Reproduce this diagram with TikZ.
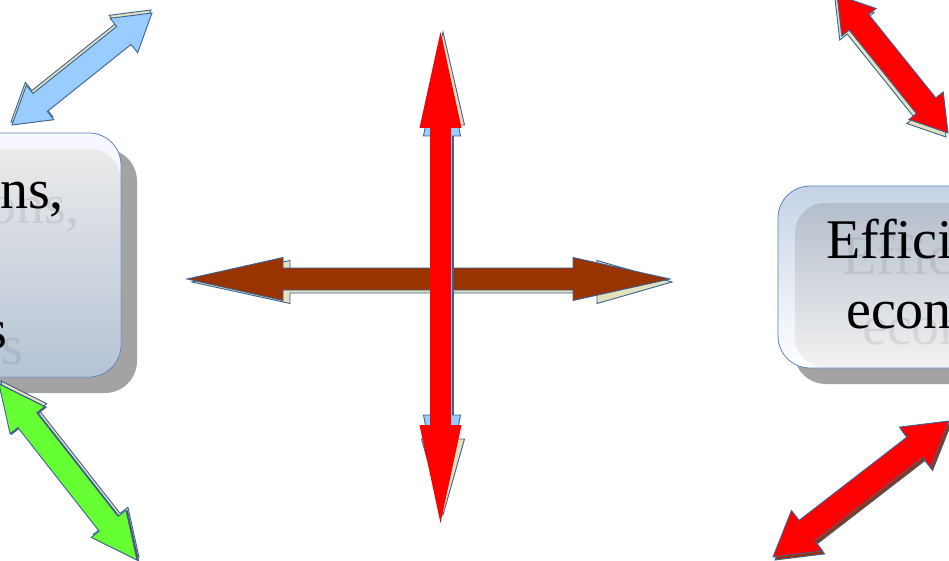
\documentclass[tikz,border=0pt]{standalone}
\usepackage{fontspec}
\setmainfont{Liberation Serif}
\usetikzlibrary{calc}

\definecolor{arrowline}{HTML}{3A6296}
\definecolor{boxline}{HTML}{5B85C0}
\definecolor{skyfill}{HTML}{99CCFF}
\definecolor{limefill}{HTML}{66FF33}
\definecolor{rustfill}{HTML}{993300}
\definecolor{creamfill}{HTML}{E4E2BC}
\definecolor{shadowgray}{HTML}{A3A3A3}

% double block arrow: style, tip, tip, shaft half width, head half width, head lengths
\newcommand{\blockarrow}[7]{%
  \path[#1] (#2)
    -- ($($(#2)!#6!(#3)$)!#5!90:(#3)$)
    -- ($($(#2)!#6!(#3)$)!#4!90:(#3)$)
    -- ($($(#3)!#7!(#2)$)!#4!-90:(#2)$)
    -- ($($(#3)!#7!(#2)$)!#5!-90:(#2)$)
    -- (#3)
    -- ($($(#3)!#7!(#2)$)!#5!90:(#2)$)
    -- ($($(#3)!#7!(#2)$)!#4!90:(#2)$)
    -- ($($(#2)!#6!(#3)$)!#4!-90:(#3)$)
    -- ($($(#2)!#6!(#3)$)!#5!-90:(#3)$)
    -- cycle;}

\begin{document}
\begin{tikzpicture}[x=1pt,y=-1pt,
    framed/.style={draw=arrowline, line width=0.9pt, line join=miter, fill=#1},
    bare/.style={fill=#1},
    boxtext/.style={inner sep=0pt, anchor=base west, font=\fontsize{56pt}{70pt}\selectfont},
    ghost/.style={boxtext, text=black, text opacity=0.08}]
    \useasboundingbox (0,0) rectangle (949,561);
    \clip (0,0) rectangle (949,561);
    \fill[white] (0,0) rectangle (949,561);

    % left box
    \fill[shadowgray, rounded corners=32pt] (-184,149) rectangle (137,393);
    \fill[white!97!blue, rounded corners=32pt] (-200,133) rectangle (121,377);
    \shade[top color=black!8, bottom color={rgb,255:red,181;green,195;blue,213}, rounded corners=30pt]
        (-184,149) rectangle (120.5,376.5);
    \node[ghost] (leftghosta) at (-12,224) {ons,};
    \node[ghost] (leftghostb) at (1,364) {s};
    \node[boxtext] (lefttexta) at (-28,208) {ons,};
    \node[boxtext] (lefttextb) at (-15,348) {s};
    \draw[boxline, line width=0.8pt, rounded corners=32pt] (-200,133) rectangle (121,377);

    % right box
    \fill[shadowgray, rounded corners=32pt] (794,202) rectangle (1166,384);
    \shade[top color={rgb,255:red,197;green,211;blue,230}, bottom color=white, rounded corners=32pt]
        (778,186) rectangle (1150,368);
    \shade[top color={rgb,255:red,180;green,190;blue,203}, bottom color=black!5, rounded corners=30pt]
        (795,203) rectangle (1150,367.5);
    \node[ghost] (rightghosta) at (842,274) {Effici};
    \node[ghost] (rightghostb) at (862,344) {econ};
    \node[boxtext] (righttexta) at (826,258) {Effici};
    \node[boxtext] (righttextb) at (846,328) {econ};
    \draw[boxline, line width=0.8pt, rounded corners=32pt] (778,186) rectangle (1150,368);

    % tips of the arrows
    \coordinate (skylow) at (12,125);
    \coordinate (skyhigh) at (152,13);
    \coordinate (skylowb) at (11,122);
    \coordinate (skyhighb) at (151,10);
    \coordinate (limehigh) at (-1,384);
    \coordinate (limelow) at (137,560);
    \coordinate (limehighb) at (1,381);
    \coordinate (limelowb) at (139,557);
    \coordinate (limehighc) at (0.5,384.5);
    \coordinate (limelowc) at (138.5,560.5);
    \coordinate (rustwest) at (187,279);
    \coordinate (rusteast) at (670,279);
    \coordinate (rustwestb) at (192,282);
    \coordinate (rusteastb) at (672,282);
    \coordinate (reddown) at (440.5,523);
    \coordinate (redup) at (440.5,32);
    \coordinate (redupb) at (443,32);
    \coordinate (reddownb) at (443,515);
    \coordinate (redupc) at (442,40);
    \coordinate (reddownc) at (442,511);
    \coordinate (cornertop) at (837,-5);
    \coordinate (cornerbot) at (948,133);
    \coordinate (cornertopb) at (835,-1);
    \coordinate (cornerbotb) at (946,137);
    \coordinate (lowerwest) at (773,557);
    \coordinate (lowereast) at (949,421);
    \coordinate (lowerwestb) at (775,560);
    \coordinate (lowereastb) at (951,424);

    % top left arrow
    \blockarrow{framed=creamfill}{skylowb}{skyhighb}{11.5pt}{22pt}{36pt}{36pt}
    \blockarrow{framed=skyfill}{skylow}{skyhigh}{11.5pt}{22pt}{36pt}{36pt}

    % bottom left arrow
    \blockarrow{framed=creamfill}{limehighb}{limelowb}{12pt}{22pt}{46pt}{46pt}
    \blockarrow{framed=rustfill}{limehighc}{limelowc}{12pt}{22pt}{46pt}{46pt}
    \blockarrow{framed=limefill}{limehigh}{limelow}{12pt}{22pt}{46pt}{46pt}

    % cross in the middle
    \blockarrow{framed=creamfill}{rustwestb}{rusteastb}{11pt}{21.5pt}{98pt}{75pt}
    \blockarrow{framed=rustfill}{rustwest}{rusteast}{11pt}{21.5pt}{96pt}{97pt}
    \blockarrow{framed=creamfill}{redupb}{reddownb}{10.5pt}{21.5pt}{93pt}{76pt}
    \blockarrow{framed=skyfill}{redupc}{reddownc}{10.5pt}{18.5pt}{96pt}{96pt}
    \blockarrow{bare=red}{redup}{reddown}{10.5pt}{21pt}{96pt}{98pt}

    % top right arrow
    \blockarrow{framed=creamfill}{cornertopb}{cornerbotb}{12.5pt}{22pt}{35pt}{35pt}
    \blockarrow{framed=red}{cornertop}{cornerbot}{12.5pt}{22pt}{35pt}{35pt}

    % bottom right arrow
    \blockarrow{framed=rustfill}{lowerwestb}{lowereastb}{13pt}{25.5pt}{43pt}{43pt}
    \blockarrow{framed=red}{lowerwest}{lowereast}{13pt}{25.5pt}{43pt}{43pt}
\end{tikzpicture}
\end{document}
